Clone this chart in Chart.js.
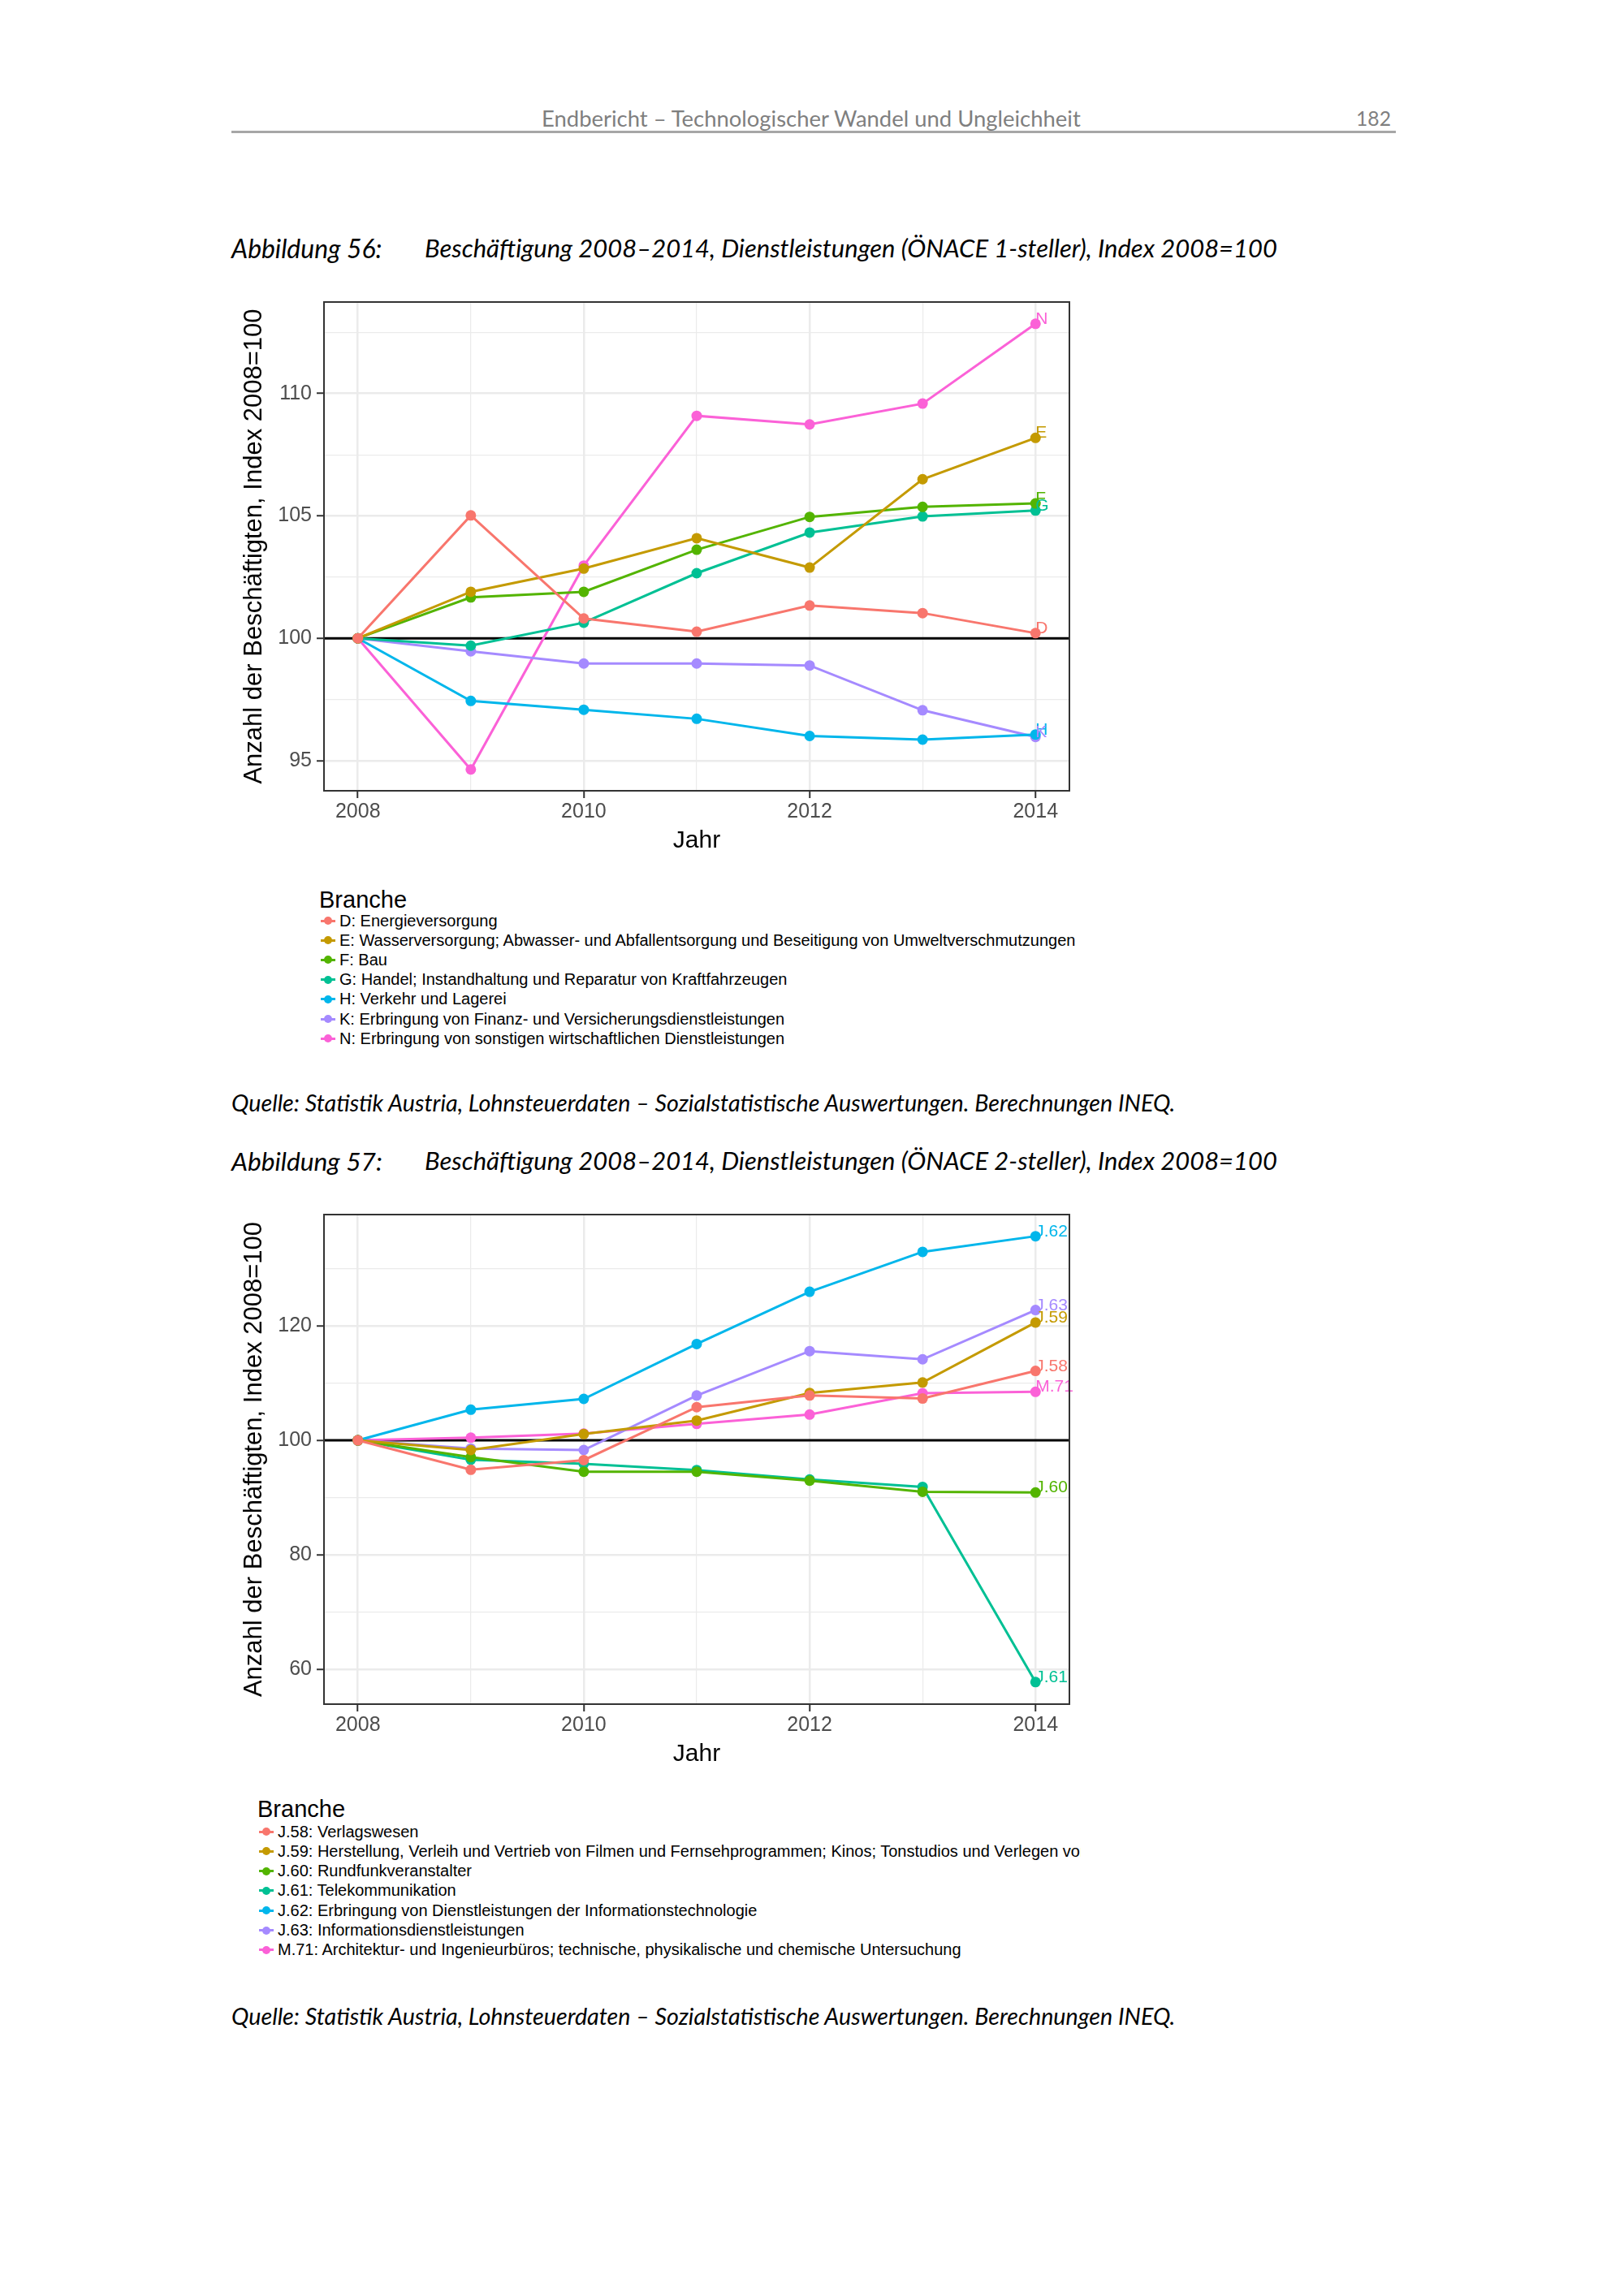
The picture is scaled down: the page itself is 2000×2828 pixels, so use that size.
<!DOCTYPE html>
<html>
<head>
<meta charset="utf-8">
<script src="https://cdn.jsdelivr.net/npm/chart.js@4.4.0/dist/chart.umd.min.js"></script>
<style>
body { margin: 0; background: #fff; width: 2000px; height: 2828px; position: relative; overflow: hidden; }
.txt { position: absolute; white-space: nowrap; transform: translateY(-50%); line-height: 1.2; }
.page { font-family: Lato, "Open Sans", sans-serif; }
.cap { font-style: italic; color: #000; }
.legend { position: absolute; overflow: hidden; font-family: "Liberation Sans", Arial, sans-serif; color: #000; }
.legend .ttl { position: absolute; white-space: nowrap; }
.legend .row { position: absolute; white-space: nowrap; display: flex; align-items: center; }
.legend .key { position: relative; width: 18px; height: 14px; margin-right: 5px; }
.legend .key i { position: absolute; left: 0; right: 0; top: 5.5px; height: 3px; }
.legend .key b { position: absolute; left: 4px; top: 2px; width: 10px; height: 10px; border-radius: 50%; }
canvas { position: absolute; }
</style>
</head>
<body>

<div class="txt page" id="hdr" data-w="664" style="left:667px; top:146px; font-size:27px; color:#7f7f7f;">Endbericht – Technologischer Wandel und Ungleichheit</div>
<div class="txt page" id="pg" data-w="43" style="left:1670px; top:146px; font-size:27px; color:#7f7f7f;">182</div>
<div style="position:absolute; left:285px; top:161px; width:1434px; height:3px; background:#a6a6a6;"></div>

<div class="txt page cap" data-w="186" style="left:285px; top:306px; font-size:29px;">Abbildung 56:</div>
<div class="txt page cap" data-w="1050" style="left:523px; top:306px; font-size:29px;">Beschäftigung 2008–2014, Dienstleistungen (ÖNACE 1-steller), Index 2008=100</div>

<canvas id="chart1" width="1060" height="720" style="left:285px; top:350px;"></canvas>
<div class="legend" id="legend1" style="left:380px; top:1080px; width:951px; height:220px;"></div>

<div class="txt page cap" data-w="1163" style="left:285px; top:1358px; font-size:29px;">Quelle: Statistik Austria, Lohnsteuerdaten – Sozialstatistische Auswertungen. Berechnungen INEQ.</div>

<div class="txt page cap" data-w="186" style="left:285px; top:1430px; font-size:29px;">Abbildung 57:</div>
<div class="txt page cap" data-w="1050" style="left:523px; top:1430px; font-size:29px;">Beschäftigung 2008–2014, Dienstleistungen (ÖNACE 2-steller), Index 2008=100</div>

<canvas id="chart2" width="1060" height="720" style="left:285px; top:1475px;"></canvas>
<div class="legend" id="legend2" style="left:300px; top:2200px; width:1031px; height:220px;"></div>

<div class="txt page cap" data-w="1163" style="left:285px; top:2483px; font-size:29px;">Quelle: Statistik Austria, Lohnsteuerdaten – Sozialstatistische Auswertungen. Berechnungen INEQ.</div>

<script>
// ---- data ----
const years = [2008, 2009, 2010, 2011, 2012, 2013, 2014];

const codes1 = ['D', 'E', 'F', 'G', 'H', 'K', 'N'];
const names1 = [
    'D: Energieversorgung',
    'E: Wasserversorgung; Abwasser- und Abfallentsorgung und Beseitigung von Umweltverschmutzungen',
    'F: Bau',
    'G: Handel; Instandhaltung und Reparatur von Kraftfahrzeugen',
    'H: Verkehr und Lagerei',
    'K: Erbringung von Finanz- und Versicherungsdienstleistungen',
    'N: Erbringung von sonstigen wirtschaftlichen Dienstleistungen'
];
const valsD = [100, 105.02, 100.81, 100.27, 101.34, 101.03, 100.21];
const valsE = [100, 101.90, 102.85, 104.09, 102.89, 106.50, 108.19];
const valsF = [100, 101.67, 101.90, 103.62, 104.96, 105.37, 105.51];
const valsG = [100, 99.70, 100.64, 102.66, 104.32, 104.98, 105.22];
const valsH = [100, 97.44, 97.08, 96.71, 96.01, 95.86, 96.07];
const valsK = [100, 99.47, 98.97, 98.97, 98.89, 97.06, 95.97];
const valsN = [100, 94.64, 102.97, 109.09, 108.74, 109.59, 112.85];

const codes2 = ['J.58', 'J.59', 'J.60', 'J.61', 'J.62', 'J.63', 'M.71'];
const names2 = [
    'J.58: Verlagswesen',
    'J.59: Herstellung, Verleih und Vertrieb von Filmen und Fernsehprogrammen; Kinos; Tonstudios und Verlegen von Musik',
    'J.60: Rundfunkveranstalter',
    'J.61: Telekommunikation',
    'J.62: Erbringung von Dienstleistungen der Informationstechnologie',
    'J.63: Informationsdienstleistungen',
    'M.71: Architektur- und Ingenieurbüros; technische, physikalische und chemische Untersuchung'
];
const valsJ58 = [100, 94.85, 96.54, 105.8, 107.83, 107.31, 112.13];
const valsJ59 = [100, 98.3, 101.1, 103.46, 108.28, 110.11, 120.6];
const valsJ60 = [100, 97.06, 94.52, 94.52, 92.95, 91.0, 90.87];
const valsJ61 = [100, 96.6, 95.9, 94.8, 93.15, 91.85, 57.73];
const valsJ62 = [100, 105.35, 107.24, 116.83, 125.96, 132.94, 135.68];
const valsJ63 = [100, 98.56, 98.3, 107.83, 115.59, 114.16, 122.77];
const valsM71 = [100, 100.46, 101.17, 102.87, 104.5, 108.22, 108.48];

const hueColors = ['#F8766D', '#C49A00', '#53B400', '#00C094', '#00B6EB', '#A58AFF', '#FB61D7'];

// ---- fit page texts to their measured widths ----
document.querySelectorAll('[data-w]').forEach(el => {
    const target = +el.dataset.w;
    const fs = parseFloat(el.style.fontSize);
    el.style.fontSize = (fs * target / el.offsetWidth) + 'px';
});

const plotFont = '"Liberation Sans", Arial, sans-serif';

function isMajor(v, step) {
    return Math.abs(v / step - Math.round(v / step)) < 1e-6;
}

const framePlugin = {
    id: 'frame',
    beforeDatasetsDraw(chart) {
        const a = chart.chartArea, ctx = chart.ctx;
        const y = chart.scales.y.getPixelForValue(100);
        ctx.save();
        ctx.strokeStyle = '#000';
        ctx.lineWidth = 3;
        ctx.beginPath();
        ctx.moveTo(a.left, y);
        ctx.lineTo(a.right, y);
        ctx.stroke();
        ctx.restore();
    },
    afterDatasetsDraw(chart) {
        const a = chart.chartArea, ctx = chart.ctx;
        ctx.save();
        // end labels
        ctx.font = '21px ' + plotFont;
        ctx.textAlign = 'left';
        ctx.textBaseline = 'alphabetic';
        chart.data.datasets.forEach((ds, i) => {
            const meta = chart.getDatasetMeta(i);
            const pt = meta.data[meta.data.length - 1];
            ctx.fillStyle = ds.borderColor;
            ctx.fillText(ds.label, pt.x, pt.y);
        });
        ctx.strokeStyle = '#333333';
        ctx.lineWidth = 2;
        ctx.strokeRect(a.left, a.top, a.right - a.left, a.bottom - a.top);
        ctx.restore();
    }
};

function buildChart(canvasId, codes, series, yMin, yMax, yStep, yMajor, padTop) {
    const datasets = codes.map((code, i) => ({
        label: code,
        data: years.map((yr, k) => ({ x: yr, y: series[i][k] })),
        borderColor: hueColors[i],
        backgroundColor: hueColors[i],
        borderWidth: 3,
        pointRadius: 6.5,
        pointBorderWidth: 0,
        showLine: true,
        tension: 0
    }));

    return new Chart(document.getElementById(canvasId), {
        type: 'scatter',
        data: { datasets: datasets },
        options: {
            responsive: false,
            animation: false,
            devicePixelRatio: 1,
            layout: { padding: { left: 0, top: padTop, right: 28, bottom: 12 } },
            plugins: { legend: { display: false }, tooltip: { enabled: false } },
            scales: {
                x: {
                    type: 'linear',
                    min: 2007.7,
                    max: 2014.3,
                    border: { display: false },
                    grid: {
                        color: '#EBEBEB',
                        lineWidth: ctx => (ctx.tick && isMajor(ctx.tick.value, 2)) ? 2.5 : 1.2,
                        tickLength: 9,
                        tickWidth: 2,
                        tickColor: ctx => (ctx.tick && isMajor(ctx.tick.value, 2)) ? '#333333' : 'rgba(0,0,0,0)'
                    },
                    ticks: {
                        stepSize: 1,
                        includeBounds: false,
                        autoSkip: false,
                        maxRotation: 0,
                        padding: 2,
                        color: '#4D4D4D',
                        font: { family: plotFont, size: 25 },
                        callback: v => isMajor(v, 2) ? String(v) : ''
                    },
                    title: {
                        display: true,
                        text: 'Jahr',
                        color: '#000',
                        font: { family: plotFont, size: 30 },
                        padding: { top: 4, bottom: 4 }
                    },
                    afterFit: s => { s.height = 84; }
                },
                y: {
                    min: yMin,
                    max: yMax,
                    border: { display: false },
                    grid: {
                        color: '#EBEBEB',
                        lineWidth: ctx => (ctx.tick && isMajor(ctx.tick.value, yMajor)) ? 2.5 : 1.2,
                        tickLength: 9,
                        tickWidth: 2,
                        tickColor: ctx => (ctx.tick && isMajor(ctx.tick.value, yMajor)) ? '#333333' : 'rgba(0,0,0,0)'
                    },
                    ticks: {
                        stepSize: yStep,
                        includeBounds: false,
                        autoSkip: false,
                        padding: 6,
                        color: '#4D4D4D',
                        font: { family: plotFont, size: 25 },
                        callback: v => isMajor(v, yMajor) ? String(v) : ''
                    },
                    title: {
                        display: true,
                        text: 'Anzahl der Beschäftigten, Index 2008=100',
                        color: '#000',
                        font: { family: plotFont, size: 31 },
                        padding: { top: 10, bottom: 4 }
                    },
                    afterFit: s => { s.width = 114; }
                }
            }
        },
        plugins: [framePlugin]
    });
}

function buildLegend(divId, names, titleLeft, keyLeft, rowTop, rowStep) {
    const box = document.getElementById(divId);
    const ttl = document.createElement('div');
    ttl.className = 'ttl';
    ttl.textContent = 'Branche';
    ttl.style.left = titleLeft + 'px';
    ttl.style.top = '12px';
    ttl.style.fontSize = '29px';
    box.appendChild(ttl);
    names.forEach((name, i) => {
        const row = document.createElement('div');
        row.className = 'row';
        row.style.left = keyLeft + 'px';
        row.style.top = (rowTop + i * rowStep) + 'px';
        row.style.fontSize = '20px';
        row.style.height = '24px';
        row.innerHTML = '<span class="key"><i style="background:' + hueColors[i] + '"></i><b style="background:' + hueColors[i] + '"></b></span><span>' + name + '</span>';
        box.appendChild(row);
    });
}

buildChart('chart1', codes1, [valsD, valsE, valsF, valsG, valsH, valsK, valsN], 93.77, 113.74, 2.5, 5, 22);
buildChart('chart2', codes2, [valsJ58, valsJ59, valsJ60, valsJ61, valsJ62, valsJ63, valsM71], 53.88, 139.46, 10, 20, 20);

buildLegend('legend1', names1, 13, 15, 42, 24.2);
buildLegend('legend2', names2, 17, 19, 44, 24.3);
</script>
</body>
</html>
